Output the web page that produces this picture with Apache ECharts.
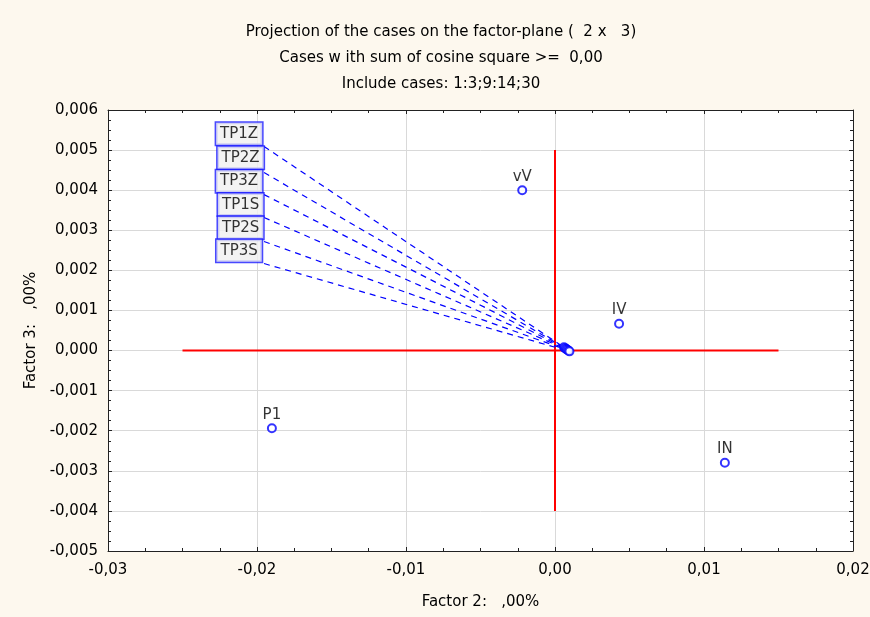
<!DOCTYPE html>
<html>
<head>
<meta charset="utf-8">
<script src="https://cdn.jsdelivr.net/npm/echarts@6/dist/echarts.min.js"></script>
<style>
html,body{margin:0;padding:0;background:#fdf8ee;}
#chart{width:870px;height:617px;}
</style>
</head>
<body>
<div id="chart"></div>
<script>
// ---- data ----
const titleLines = [
  'Projection of the cases on the factor-plane (  2 x   3)',
  'Cases w ith sum of cosine square >=  0,00',
  'Include cases: 1:3;9:14;30'
];
const xAxisName = 'Factor 2:   ,00%';
const yAxisName = 'Factor 3:   ,00%';
const xRange = [-0.03, 0.02];
const yRange = [-0.005, 0.006];
const xStep = 0.01;
const yStep = 0.001;

// labelled cases
const caseNames = ['vV', 'IV', 'IN', 'P1'];
const caseX = [-0.0022, 0.0043, 0.0114, -0.0190];
const caseY = [0.0040, 0.00067, -0.0028, -0.00194];

// clustered cases near origin (labelled by boxes)
const tpNames = ['TP1Z', 'TP2Z', 'TP3Z', 'TP1S', 'TP2S', 'TP3S'];
const tpX = [0.00060, 0.00068, 0.00075, 0.00082, 0.00090, 0.00097];
const tpY = [0.00008, 0.00006, 0.00004, 0.00002, 0.00000, -0.00002];
// box label anchors (data units)
const tpBoxX = [-0.0212, -0.0211, -0.0212, -0.0211, -0.0211, -0.0212];
const tpBoxY = [0.00541, 0.00481, 0.00422, 0.00364, 0.00306, 0.00249];
// leader line start points (data units)
const tpLeadX = [-0.01953, -0.01953, -0.01953, -0.01953, -0.01953, -0.01953];
const tpLeadY = [0.00509, 0.00444, 0.00389, 0.00332, 0.00272, 0.00217];

// red reference cross
const crossHX = [-0.025, 0.015];
const crossVY = [0.005, -0.004];

// ---- chart ----
const FONT = '"DejaVu Sans", Verdana, sans-serif';
const FS = 15;
const fmtX = v => (Math.abs(v) < 1e-12 ? 0 : v).toFixed(2).replace('.', ',');
const fmtY = v => (Math.abs(v) < 1e-12 ? 0 : v).toFixed(3).replace('.', ',');

const chart = echarts.init(document.getElementById('chart'), null, {renderer: 'canvas'});

const baseAxisLine = {show: true, onZero: false, lineStyle: {color: '#222', width: 1}};
const tickStyle = {show: true, inside: true, length: 4, lineStyle: {color: '#222'}};
const minorStyle = {show: true, splitNumber: 4, length: 3, lineStyle: {color: '#222'}};

const series = [];
// red cross
series.push({
  type: 'line', xAxisIndex: 0, yAxisIndex: 0, silent: true, symbol: 'none', z: 2,
  lineStyle: {color: '#ff0000', width: 2},
  data: [[crossHX[0], 0], [crossHX[1], 0]]
});
series.push({
  type: 'line', xAxisIndex: 0, yAxisIndex: 0, silent: true, symbol: 'none', z: 2,
  lineStyle: {color: '#ff0000', width: 2},
  data: [[0, crossVY[0]], [0, crossVY[1]]]
});
// leader lines
tpNames.forEach((n, i) => {
  series.push({
    type: 'line', xAxisIndex: 0, yAxisIndex: 0, silent: true, symbol: 'none', z: 3,
    lineStyle: {color: '#0000ff', width: 1.2, type: [6, 5]},
    data: [[tpLeadX[i], tpLeadY[i]], [tpX[i], tpY[i]]]
  });
});
// case points
series.push({
  type: 'scatter', z: 5,
  symbol: 'emptyCircle', symbolSize: 8,
  itemStyle: {color: '#0000ff', borderColor: '#0000ff', borderWidth: 1.5},
  label: {show: true, position: 'top', distance: 1, color: '#000', fontFamily: FONT, fontSize: FS,
          formatter: p => p.data[2]},
  data: caseNames.map((n, i) => [caseX[i], caseY[i], n])
});
series.push({
  type: 'scatter', z: 5,
  symbol: 'emptyCircle', symbolSize: 8,
  itemStyle: {color: '#0000ff', borderColor: '#0000ff', borderWidth: 1.5},
  data: tpNames.map((n, i) => [tpX[i], tpY[i], n])
});
// box labels
series.push({
  type: 'scatter', z: 6, symbolSize: 0,
  label: {show: true, position: 'inside', color: '#000', fontFamily: FONT, fontSize: FS,
          backgroundColor: '#f0f0f0', borderColor: '#1a1aff', borderWidth: 1.5,
          padding: [3, 4, 2, 4], lineHeight: 17,
          formatter: p => p.data[2]},
  data: tpNames.map((n, i) => [tpBoxX[i], tpBoxY[i], n])
});

const option = {
  backgroundColor: '#fdf8ee',
  animation: false,
  textStyle: {fontFamily: FONT},
  graphic: [
    {type: 'rect', shape: {x: 108, y: 110, width: 745, height: 441}, style: {fill: '#ffffff'}, z: -10, silent: true}
  ].concat(titleLines.map((t, i) => ({
    type: 'text', x: 441, y: 32 + i * 26, silent: true,
    style: {text: t, fill: '#000', font: FS + 'px ' + FONT, textAlign: 'center', textVerticalAlign: 'middle'}
  }))),
  grid: {left: 108, right: 17, top: 110, bottom: 66, containLabel: false, outerBoundsMode: 'none'},
  xAxis: [{
    type: 'value', min: xRange[0], max: xRange[1], interval: xStep, position: 'bottom',
    name: xAxisName, nameLocation: 'middle', nameGap: 44,
    nameTextStyle: {color: '#000', fontSize: FS, fontFamily: FONT},
    axisLine: baseAxisLine, axisTick: tickStyle, minorTick: minorStyle,
    axisLabel: {color: '#000', fontSize: FS, fontFamily: FONT, margin: 12, formatter: fmtX},
    splitLine: {show: true, lineStyle: {color: '#d9d9d9', width: 1}}
  }, {
    type: 'value', min: xRange[0], max: xRange[1], interval: xStep, position: 'top',
    axisLine: baseAxisLine, axisTick: tickStyle, minorTick: minorStyle,
    axisLabel: {show: false}, splitLine: {show: false}
  }],
  yAxis: [{
    type: 'value', min: yRange[0], max: yRange[1], interval: yStep, position: 'left',
    name: yAxisName, nameLocation: 'middle', nameGap: 67,
    nameTextStyle: {color: '#000', fontSize: FS, fontFamily: FONT},
    axisLine: baseAxisLine, axisTick: tickStyle, minorTick: minorStyle,
    axisLabel: {color: '#000', fontSize: FS, fontFamily: FONT, margin: 10, formatter: fmtY},
    splitLine: {show: true, lineStyle: {color: '#d9d9d9', width: 1}}
  }, {
    type: 'value', min: yRange[0], max: yRange[1], interval: yStep, position: 'right',
    axisLine: baseAxisLine, axisTick: tickStyle, minorTick: minorStyle,
    axisLabel: {show: false}, splitLine: {show: false}
  }],
  series: series
};
chart.setOption(option);
</script>
</body>
</html>
